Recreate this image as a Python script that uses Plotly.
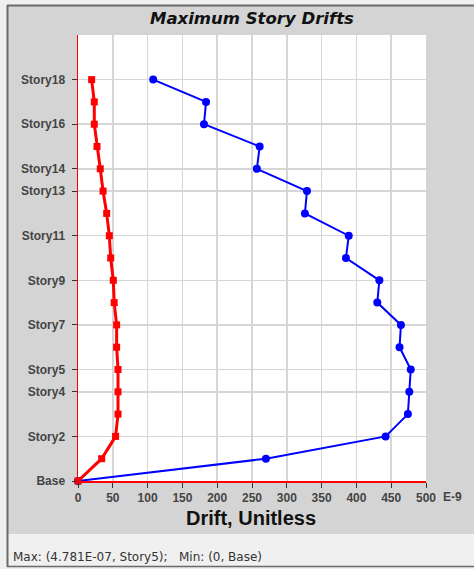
import plotly.graph_objects as go

# ---- data ----
stories = ["Base"] + [f"Story{i}" for i in range(1, 19)]
drift_x = [0, 270, 442, 474, 476, 478.1, 462, 464, 430, 433, 385, 389, 326, 329, 257, 261, 181, 184, 108]
drift_y = [0, 34, 54, 57.5, 57.5, 57.5, 55.5, 55.5, 52, 50.7, 47, 45, 41.2, 36, 32, 27.3, 23.4, 23.4, 19.6]
tick_stories = ["Base", "Story2", "Story4", "Story5", "Story7", "Story9", "Story11", "Story13", "Story14", "Story16", "Story18"]
x_ticks = [0, 50, 100, 150, 200, 250, 300, 350, 400, 450, 500]

W, H = 474, 569
L, R, T, B = 78, 48, 35, 88
PW, PH = W - L - R, H - T - B


def fx(px):
    return (px - L) / PW


def fy(py):
    return (H - B - py) / PH


levels = list(range(len(stories)))
tick_pos = [stories.index(s) for s in tick_stories]

fig = go.Figure()
fig.add_trace(go.Scatter(
    x=drift_x, y=levels, mode="lines+markers",
    line=dict(color="#0000ff", width=2),
    marker=dict(symbol="circle", size=8, color="#0000ff"),
    cliponaxis=False, hoverinfo="skip", showlegend=False))
fig.add_trace(go.Scatter(
    x=drift_y, y=levels, mode="lines+markers",
    line=dict(color="#ff0000", width=3),
    marker=dict(symbol="square", size=7, color="#ff0000"),
    cliponaxis=False, hoverinfo="skip", showlegend=False))

tickfont = dict(family="Arial, Liberation Sans", size=12, color="#444444", weight="bold")

fig.update_layout(
    width=W, height=H,
    margin=dict(l=L, r=R, t=T, b=B, pad=0),
    paper_bgcolor="#f0f0f0", plot_bgcolor="#ffffff",
    xaxis=dict(range=[0, 500], tickmode="array", tickvals=x_ticks,
               ticktext=[str(v) for v in x_ticks],
               showgrid=True, gridcolor="#d6d6d6", gridwidth=1.5,
               zeroline=False, showline=True, linecolor="#ff0000", linewidth=1.5,
               ticks="outside", ticklen=5, tickcolor="#333333", tickfont=tickfont,
               fixedrange=True),
    yaxis=dict(range=[0, 20], tickmode="array", tickvals=tick_pos, ticktext=tick_stories,
               showgrid=True, gridcolor="#d6d6d6", gridwidth=1.5,
               zeroline=False, showline=True, linecolor="#ff0000", linewidth=1.5,
               ticks="outside", ticklen=5, tickcolor="#333333", tickfont=tickfont,
               ticklabelstandoff=4, fixedrange=True),
    shapes=[
        dict(type="rect", xref="paper", yref="paper", layer="below",
             x0=fx(8), x1=fx(476), y0=fy(534), y1=fy(6),
             fillcolor="#d4d4d4", line=dict(width=0)),
        dict(type="rect", xref="paper", yref="paper", layer="below",
             x0=0, x1=1, y0=0, y1=1, fillcolor="#ffffff", line=dict(width=0)),
        dict(type="line", xref="paper", yref="paper",
             x0=fx(7), x1=fx(476), y0=fy(5.5), y1=fy(5.5),
             line=dict(color="#6a6a6a", width=2)),
        dict(type="line", xref="paper", yref="paper",
             x0=fx(7.5), x1=fx(7.5), y0=fy(5), y1=fy(567),
             line=dict(color="#6a6a6a", width=2)),
        dict(type="line", xref="paper", yref="paper",
             x0=fx(7), x1=fx(476), y0=fy(566.5), y1=fy(566.5),
             line=dict(color="#6a6a6a", width=1.5)),
    ],
    annotations=[
        dict(text="<b><i>Maximum Story Drifts</i></b>", xref="paper", yref="paper",
             x=fx(252), y=fy(18.5), xanchor="center", yanchor="middle", showarrow=False,
             font=dict(family="DejaVu Sans", size=16.5, color="#111111")),
        dict(text="<b>Drift, Unitless</b>", xref="paper", yref="paper",
             x=fx(251), y=fy(518), xanchor="center", yanchor="middle", showarrow=False,
             font=dict(family="Arial, Liberation Sans", size=20, color="#111111")),
        dict(text="E-9", xref="paper", yref="paper",
             x=fx(441), y=fy(497), xanchor="left", yanchor="middle", showarrow=False,
             font=tickfont),
        dict(text="Max: (4.781E-07, Story5);\u00a0\u00a0\u00a0Min: (0, Base)", xref="paper", yref="paper",
             x=fx(11), y=fy(557), xanchor="left", yanchor="middle", showarrow=False,
             font=dict(family="DejaVu Sans", size=12, color="#333333")),
    ],
)

fig.write_html("out.html", config={"displayModeBar": False, "staticPlot": True})
